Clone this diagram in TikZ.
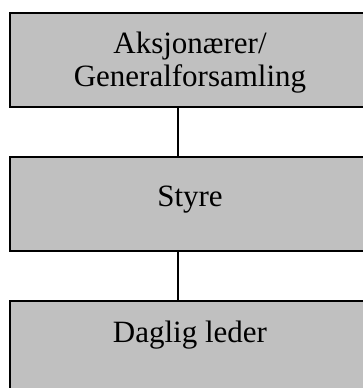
\documentclass[tikz,border=0pt]{standalone}
\usepackage{fontspec}
\setmainfont{Liberation Serif}
\definecolor{boxgray}{RGB}{192,192,192}
\begin{document}
\begin{tikzpicture}[x=1pt,y=-1pt,
  orgbox/.style={draw=black,fill=boxgray,line width=1.6pt,rectangle,inner sep=0pt,outer sep=0pt,minimum width=360pt,minimum height=94pt},
  orgtext/.style={anchor=base,inner sep=0pt,font=\fontsize{31}{33}\selectfont},
  link/.style={draw=black,line width=1.4pt}]
\clip (0,0) rectangle (363,388);
\useasboundingbox (0,0) rectangle (363,388);
\node[orgbox] (b1) at (190,60) {};
\node[orgbox] (b2) at (190,204) {};
\node[orgbox] (b3) at (190,348) {};
\coordinate (cx) at (178,0);
\node[orgtext] (t1a) at (190,53) {Aksjonærer/};
\node[orgtext] (t1b) at (190,86) {Generalforsamling};
\node[orgtext] (t2) at (190,206) {Styre};
\node[orgtext] (t3) at (190,342) {Daglig leder};
\draw[link] (b1.south -| cx) -- (b2.north -| cx);
\draw[link] (b2.south -| cx) -- (b3.north -| cx);
\end{tikzpicture}
\end{document}
